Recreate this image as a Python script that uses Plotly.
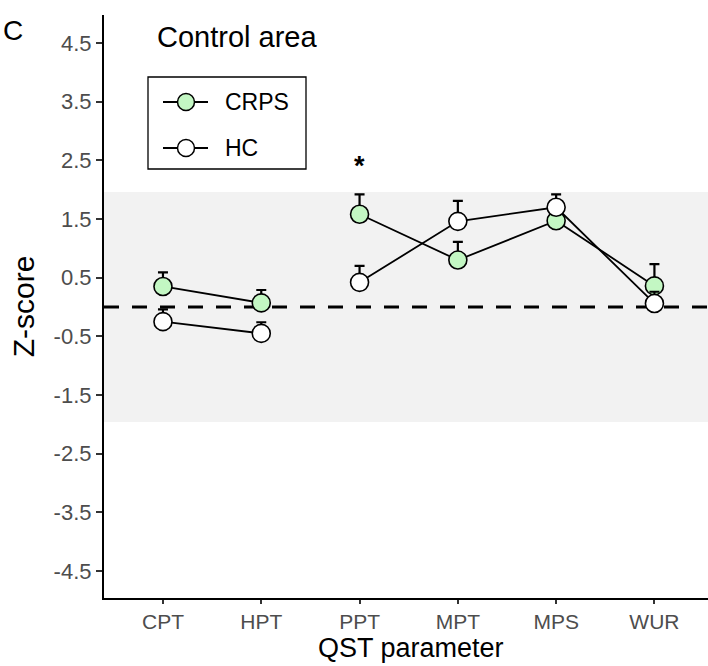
import plotly.graph_objects as go

categories = ["CPT", "HPT", "PPT", "MPT", "MPS", "WUR"]
crps_mean = [0.35, 0.07, 1.58, 0.80, 1.47, 0.36]
crps_se = [0.24, 0.22, 0.34, 0.31, 0.20, 0.37]
hc_mean = [-0.25, -0.45, 0.42, 1.46, 1.70, 0.06]
hc_se = [0.21, 0.19, 0.28, 0.35, 0.22, 0.20]
ytick_vals = [4.5, 3.5, 2.5, 1.5, 0.5, -0.5, -1.5, -2.5, -3.5, -4.5]
ytick_text = ["4.5", "3.5", "2.5", "1.5", "0.5", "-0.5", "-1.5", "-2.5", "-3.5", "-4.5"]
band = 1.96
break_after = 2  # lines broken between HPT and PPT
groups = ["CRPS", "HC"]
fills = ["#c3f7c3", "#ffffff"]

FONT = "Liberation Sans, Arial, Helvetica, sans-serif"

# plot-area geometry (pixels) used to place the manual legend and titles
L, T, W, H = 104, 15, 604, 583


def px(xp):
    return (xp - L) / W


def py(yp):
    return (T + H - yp) / H


def with_break(vals):
    return list(vals[:break_after]) + [None] + list(vals[break_after:])


xpos = list(range(1, len(categories) + 1))

fig = go.Figure()
for name, mean, se, fill in zip(groups, [crps_mean, hc_mean], [crps_se, hc_se], fills):
    fig.add_trace(go.Scatter(
        x=with_break(xpos), y=with_break(mean), name=name,
        mode="lines+markers", connectgaps=False, showlegend=False,
        line=dict(color="black", width=1.8),
        marker=dict(size=18, color=fill, line=dict(color="black", width=1.6)),
        error_y=dict(type="data", symmetric=False, array=with_break(se),
                     arrayminus=[0] * (len(se) + 1), color="black",
                     thickness=2.2, width=5),
    ))

fig.add_shape(type="rect", xref="paper", yref="y", x0=0, x1=1, y0=-band, y1=band,
              fillcolor="#f2f2f2", line=dict(width=0), layer="below")
fig.add_shape(type="line", xref="paper", yref="y", x0=0, x1=1, y0=0, y1=0,
              line=dict(color="black", width=3, dash="15px,13px"), layer="below")

# manual legend box
fig.add_shape(type="rect", xref="paper", yref="paper",
              x0=px(148), x1=px(306), y0=py(169), y1=py(77),
              line=dict(color="black", width=1.3), fillcolor="white", layer="above")
for i, (name, fill) in enumerate(zip(groups, fills)):
    yc = 102 + 46 * i
    fig.add_shape(type="line", xref="paper", yref="paper",
                  x0=px(163), x1=px(208), y0=py(yc), y1=py(yc),
                  line=dict(color="black", width=1.8), layer="above")
    fig.add_shape(type="circle", xref="paper", yref="paper",
                  xsizemode="pixel", ysizemode="pixel",
                  xanchor=px(186), yanchor=py(yc), x0=-8.5, x1=8.5, y0=-8.5, y1=8.5,
                  fillcolor=fill, line=dict(color="black", width=1.5), layer="above")
    fig.add_annotation(x=px(223), y=py(yc), xref="paper", yref="paper", text=name,
                       showarrow=False, xanchor="left", yanchor="middle",
                       font=dict(size=23, color="black", family=FONT))

fig.add_annotation(x=3, y=2.4, xref="x", yref="y", text="<b>*</b>", showarrow=False,
                   font=dict(size=27, color="black", family=FONT))
fig.add_annotation(x=px(236.5), y=py(37), xref="paper", yref="paper", text="Control area",
                   showarrow=False, font=dict(size=29, color="black", family=FONT),
                   xanchor="center", yanchor="middle")
fig.add_annotation(x=px(13), y=py(30), xref="paper", yref="paper", text="C",
                   showarrow=False, font=dict(size=28, color="black", family=FONT),
                   xanchor="center", yanchor="middle")
# x-axis title
fig.add_annotation(x=px(411), y=py(648), xref="paper", yref="paper", text="QST parameter",
                   showarrow=False, font=dict(size=27, color="black", family=FONT),
                   xanchor="center", yanchor="middle")

fig.update_layout(
    width=708, height=666,
    margin=dict(l=L, r=708 - L - W, t=T, b=666 - T - H),
    paper_bgcolor="white", plot_bgcolor="white",
    font=dict(family=FONT, color="black"),
    showlegend=False,
    xaxis=dict(range=[0.4, 6.545], tickvals=xpos, ticktext=categories,
               showgrid=False, zeroline=False, showline=True, linecolor="black",
               linewidth=2.2, ticks="outside", ticklen=4, tickwidth=1.6,
               tickcolor="#333333",
               tickfont=dict(size=21, color="#4d4d4d", family=FONT)),
    yaxis=dict(range=[-4.96, 4.977], tickvals=ytick_vals, ticktext=ytick_text,
               showgrid=False, zeroline=False, showline=True, linecolor="black",
               linewidth=2.2, ticks="outside", ticklen=6, tickwidth=1.6,
               tickcolor="#333333",
               tickfont=dict(size=22, color="#4d4d4d", family=FONT),
               title=dict(text="Z-score", standoff=10,
                          font=dict(size=30, color="black", family=FONT))),
)

fig.write_html("out.html")
